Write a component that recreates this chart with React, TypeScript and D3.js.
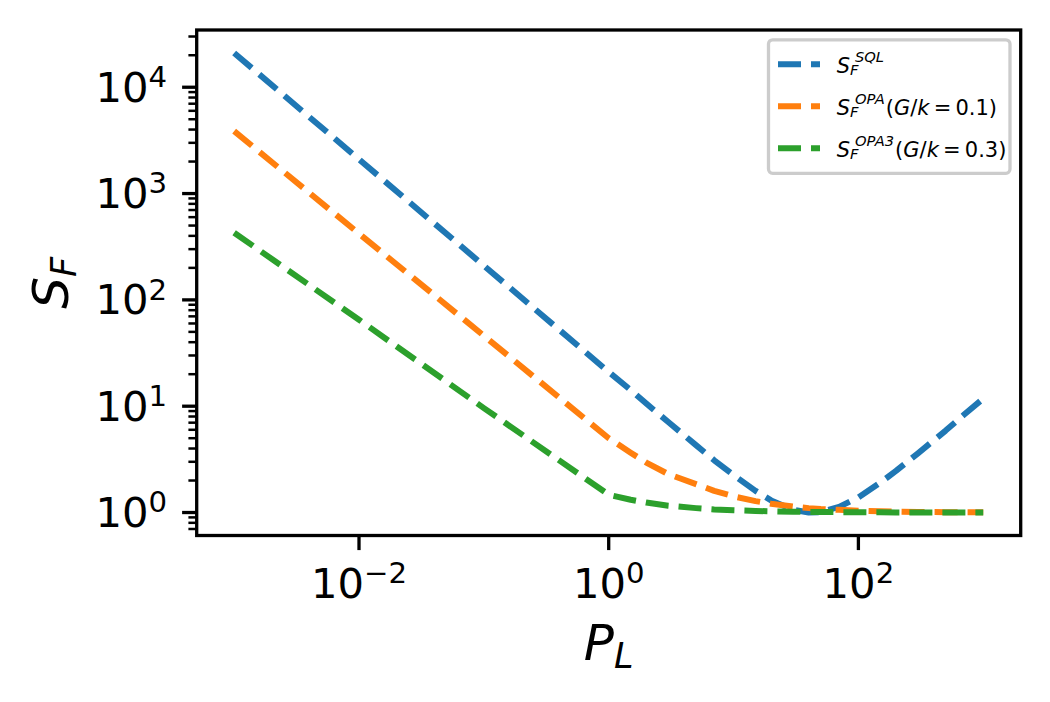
import React from 'react';
import * as d3 from 'd3';

// P_L sample points and read-off S_F values
const pL = [0.001, 0.01, 0.1, 1, 1.5, 2, 3, 5, 7, 10, 15, 20, 30, 40, 50, 70, 100, 150, 200, 300, 500, 700, 1000];
const sqlValues = [21000, 2100, 210, 21, 14.2, 10.6, 7.1, 4.3, 3.1, 2.25, 1.6, 1.3, 1.06, 1.0, 1.01, 1.13, 1.39, 1.91, 2.46, 3.6, 5.9, 8.3, 11.8];
const opaValues = [3860, 420, 46, 5.0, 3.65, 2.95, 2.3, 1.85, 1.6, 1.42, 1.28, 1.21, 1.14, 1.1, 1.08, 1.06, 1.04, 1.027, 1.02, 1.013, 1.008, 1.006, 1.004];
const opa3Values = [428, 65, 9.6, 1.47, 1.32, 1.24, 1.16, 1.1, 1.07, 1.05, 1.035, 1.027, 1.018, 1.014, 1.011, 1.008, 1.006, 1.004, 1.003, 1.002, 1.001, 1.001, 1.0];

const seriesColors = ['#1f77b4', '#ff7f0e', '#2ca02c'];
const seriesSup = ['SQL', 'OPA', 'OPA3'];
const seriesRatio = ['', '0.1', '0.3'];

const xTickExps = [-2, 0, 2];
const yTickExps = [0, 1, 2, 3, 4];

const W = 1050;
const H = 702;
const left = 196.7;
const right = 1020.7;
const top = 30;
const bottom = 535.5;
const font = 'DejaVu Sans';

const logPad = (lo: number, hi: number) => {
  const a = Math.log10(lo);
  const b = Math.log10(hi);
  const m = (b - a) * 0.05;
  return [Math.pow(10, a - m), Math.pow(10, b + m)];
};

const App: React.FC = () => {
  const allY = [...sqlValues, ...opaValues, ...opa3Values];
  const x = d3.scaleLog().domain(logPad(d3.min(pL)!, d3.max(pL)!)).range([left, right]);
  const y = d3.scaleLog().domain(logPad(d3.min(allY)!, d3.max(allY)!)).range([bottom, top]);

  const series = [sqlValues, opaValues, opa3Values];
  const line = d3.line<number>()
    .x((_, i) => x(pL[i]))
    .y(d => y(d));

  // minor y ticks
  const [y0, y1] = y.domain();
  const minorY: number[] = [];
  for (let e = Math.floor(Math.log10(y0)); e <= Math.ceil(Math.log10(y1)); e++) {
    for (let k = 2; k <= 9; k++) {
      const v = k * Math.pow(10, e);
      if (v >= y0 && v <= y1) minorY.push(v);
    }
  }

  const tickFs = 41.7;
  const supFs = tickFs * 0.7;
  const legFs = 21;
  const legSub = legFs * 0.7;

  const lw = 6;
  const dash = '23,10';

  return (
    <svg width={W} height={H} style={{ position: 'absolute', left: 0, top: 0, background: '#fff' }} fontFamily={font}>
      <rect x={0} y={0} width={W} height={H} fill="#fff" />

      {/* data lines */}
      <g fill="none" strokeWidth={lw} strokeDasharray={dash} strokeLinejoin="round" strokeLinecap="butt">
        {series.map((s, i) => (
          <path key={i} d={line(s) || ''} stroke={seriesColors[i]} />
        ))}
      </g>

      {/* frame */}
      <rect x={left} y={top} width={right - left} height={bottom - top} fill="none" stroke="#000" strokeWidth={3.3} />

      {/* x ticks */}
      {xTickExps.map(e => {
        const px = x(Math.pow(10, e));
        return (
          <g key={e}>
            <line x1={px} x2={px} y1={bottom} y2={bottom + 14.6} stroke="#000" strokeWidth={3.3} />
            <text x={px} y={597.5} textAnchor="middle" fontSize={tickFs}>
              10<tspan fontSize={supFs} dy={-14.6}>{e < 0 ? '\u2212' + Math.abs(e) : e}</tspan>
            </text>
          </g>
        );
      })}

      {/* y ticks */}
      {yTickExps.map(e => {
        const py = y(Math.pow(10, e));
        return (
          <g key={e}>
            <line x1={left - 14.6} x2={left} y1={py} y2={py} stroke="#000" strokeWidth={3.3} />
            <text x={167} y={py + 14.5} textAnchor="end" fontSize={tickFs}>
              10<tspan fontSize={supFs} dy={-14.6}>{e}</tspan>
            </text>
          </g>
        );
      })}
      {minorY.map((v, i) => (
        <line key={i} x1={left - 8.3} x2={left} y1={y(v)} y2={y(v)} stroke="#000" strokeWidth={2.5} />
      ))}

      {/* axis labels */}
      <text x={(left + right) / 2} y={660} textAnchor="middle" fontSize={50}>
        <tspan fontStyle="italic">P</tspan>
        <tspan fontStyle="italic" fontSize={35} dy={8}>L</tspan>
      </text>
      <text transform={`translate(68,${(top + bottom) / 2}) rotate(-90)`} textAnchor="middle" fontSize={50}>
        <tspan fontStyle="italic">S</tspan>
        <tspan fontStyle="italic" fontSize={35} dy={8}>F</tspan>
      </text>

      {/* legend */}
      <rect x={768.5} y={39.8} width={241.5} height={133.5} rx={4.2} fill="#fff" fillOpacity={0.8} stroke="#cccccc" strokeWidth={3.3} />
      {seriesColors.map((c, i) => {
        const cy = 64.3 + i * 42;
        const base = cy + 8.5;
        return (
          <g key={i}>
            <line x1={778} x2={820} y1={cy} y2={cy} stroke={c} strokeWidth={lw} strokeDasharray={dash} />
            <text x={836.7} y={base} fontSize={legFs}>
              <tspan fontStyle="italic">S</tspan>
              <tspan fontStyle="italic" fontSize={legSub} dy={2.5}>F</tspan>
              <tspan fontStyle="italic" fontSize={legSub} dx={-3.5} dy={-13.5}>{seriesSup[i]}</tspan>
              {seriesRatio[i] && (
                <>
                  <tspan dy={11} dx={1}>(</tspan>
                  <tspan fontStyle="italic">G</tspan>
                  <tspan>/</tspan>
                  <tspan fontStyle="italic">k</tspan>
                  <tspan>{'\u2009=\u2009' + seriesRatio[i] + ')'}</tspan>
                </>
              )}
            </text>
          </g>
        );
      })}
    </svg>
  );
};

export default App;
